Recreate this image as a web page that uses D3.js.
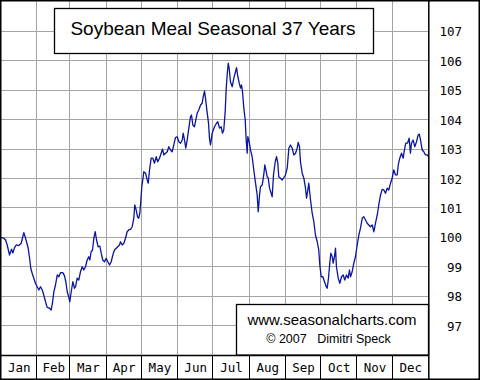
<!DOCTYPE html>
<html>
<head>
<meta charset="utf-8">
<script src="https://cdn.jsdelivr.net/npm/d3@7"></script>
<style>
  html, body { margin: 0; padding: 0; background: #fff; }
  svg { display: block; }
</style>
</head>
<body>
<svg id="chart" width="480" height="380"></svg>
<script>
// ---- data ----
const title = "Soybean Meal Seasonal 37 Years";
const months = ["Jan","Feb","Mar","Apr","May","Jun","Jul","Aug","Sep","Oct","Nov","Dec"];
const monthDays = [31,28,31,30,31,30,31,31,30,31,30,31];
const yTicks = [97,98,99,100,101,102,103,104,105,106,107];
const credits = ["www.seasonalcharts.com", "\u00A9 2007   Dimitri Speck"];

// day of year (fractional) of each point
const days = [
  0,2.8,4.3,5.7,7.7,9.4,10.5,11.9,13.4,15.6,17.7,19.0,19.9,20.7,22.2,23.6,25.0,25.8,27.0,28.4,
  29.8,31.3,32.7,34.1,35.6,36.9,38.4,39.8,41.8,43.2,44.3,45.5,46.9,48.4,49.7,51.2,53.1,54.6,55.7,56.9,
  58.2,59.1,60.3,61.7,63.1,64.0,65.4,66.8,68.2,69.7,71.0,72.5,73.9,75.3,76.2,77.3,78.5,79.6,80.8,81.9,
  83.3,84.7,85.9,87.2,88.7,90.1,91.5,93.0,94.4,95.8,97.2,98.7,100.0,101.5,102.3,103.8,105.2,106.6,108.0,109.4,
  110.9,112.3,113.7,114.5,115.7,116.8,117.9,118.8,119.6,120.5,121.7,122.2,123.7,125.1,126.0,127.1,128.5,129.9,131.3,132.8,
  134.1,135.6,137.0,138.2,139.3,140.7,142.2,143.5,145.0,146.4,147.8,149.2,150.7,152.1,153.5,155.0,155.8,156.9,158.0,159.2,
  160.6,162.0,162.9,164.0,165.4,166.6,167.7,169.1,170.6,172.0,172.9,174.0,174.8,176.3,177.4,178.2,179.1,180.5,182.5,184.2,
  185.3,186.8,188.2,189.3,190.4,191.6,192.5,193.3,194.2,195.0,196.1,197.6,199.0,200.4,201.3,202.4,203.6,204.7,205.5,206.4,
  207.5,208.7,209.5,210.4,210.9,212.1,213.2,214.6,216.0,217.5,218.9,219.8,220.9,221.7,223.2,224.5,225.4,226.6,227.4,228.3,
  229.4,230.8,231.7,232.8,234.3,235.4,236.5,237.3,238.8,240.2,241.6,243.0,244.5,245.9,247.3,248.8,250.1,251.6,253.0,253.9,
  255.0,255.8,257.3,258.7,260.1,261.0,262.1,262.9,264.4,265.8,267.2,268.6,270.1,271.4,272.3,273.5,274.9,276.3,277.8,278.6,
  279.7,280.8,281.7,282.9,283.7,284.8,285.7,286.5,288.0,289.4,290.8,292.3,293.6,295.1,296.5,297.6,298.5,299.9,301.3,302.7,
  304.2,305.6,307.0,308.5,309.8,311.3,312.7,314.1,315.5,317.0,318.4,319.8,321.3,322.6,324.1,325.5,326.9,328.3,329.8,331.1,
  332.6,334.0,335.4,336.9,338.3,339.2,340.5,342.0,343.4,344.5,345.6,347.1,348.5,349.6,350.5,351.9,353.3,354.8,356.2,357.1,
  358.2,359.6,361.0,362.4,363.9,365.0
];

// seasonal index value of each point
const values = [
  100.00,99.97,99.91,99.74,99.40,99.60,99.47,99.64,99.74,99.72,99.80,100.02,100.16,100.06,99.85,99.63,99.23,98.95,98.78,98.61,
  98.44,98.32,98.21,98.32,98.21,98.04,97.81,97.62,97.59,97.53,97.76,98.15,98.38,98.72,98.66,98.80,98.80,98.69,98.49,98.15,
  97.98,97.81,98.15,98.49,98.27,98.32,98.61,98.55,98.83,99.00,98.89,99.00,99.23,99.34,99.23,99.51,99.57,99.97,100.19,99.91,
  99.68,99.70,99.46,99.23,99.17,99.29,99.17,99.06,99.17,99.40,99.57,99.63,99.68,99.74,99.85,99.74,99.80,99.97,100.19,100.25,
  100.27,100.36,100.65,101.10,100.93,100.70,100.65,100.82,101.21,101.72,102.06,102.23,102.18,101.95,101.84,102.29,102.69,102.69,102.52,102.74,
  102.57,102.69,102.86,103.00,102.80,102.86,102.91,103.08,102.97,102.91,103.14,103.39,103.42,103.25,103.20,103.31,103.54,103.31,103.03,103.31,
  103.71,104.10,104.16,103.82,103.76,103.99,104.22,104.33,104.50,104.56,104.78,104.97,104.73,104.22,103.88,103.37,103.14,103.54,103.76,103.88,
  103.93,103.71,103.76,103.54,103.65,104.27,105.07,105.52,105.92,105.75,105.29,105.12,105.41,105.63,105.77,105.46,105.24,105.07,105.18,104.95,
  104.39,103.99,103.31,102.86,103.42,103.25,102.97,102.74,102.29,101.84,101.44,100.87,101.44,101.72,101.78,102.12,102.46,102.23,102.06,102.02,
  101.68,101.50,101.38,102.12,102.57,102.74,102.52,102.06,102.01,101.95,102.03,102.12,102.35,103.03,103.14,103.03,102.80,102.86,103.03,103.23,
  103.08,102.57,102.18,102.01,101.67,101.33,101.61,101.84,101.27,100.82,100.53,100.08,99.85,99.57,99.06,98.66,98.66,98.49,98.32,98.27,
  98.61,99.12,99.46,99.34,99.12,99.34,99.63,99.00,98.61,98.44,98.66,98.72,98.55,98.72,98.61,98.89,98.66,98.83,99.12,99.34,
  99.74,100.08,100.31,100.65,100.70,100.59,100.48,100.42,100.36,100.42,100.19,100.48,100.76,101.10,101.44,101.63,101.61,101.50,101.67,101.61,
  101.84,102.01,102.29,102.12,102.12,102.46,102.69,102.86,102.69,102.97,103.20,103.20,103.37,102.86,103.20,103.31,103.08,103.25,103.48,103.51,
  103.31,102.97,102.91,102.80,102.80,102.74
];

// ---- layout ----
const W = 480, H = 380;
const plot = { left: 0.5, right: 428.5, top: 0.5, bottom: 355 };
const svg = d3.select("#chart");

const x = d3.scaleLinear().domain([0, 365]).range([plot.left, plot.right]);
const y = d3.scaleLinear().domain([96, 108]).range([plot.bottom, 2]);

const cum = d3.cumsum(monthDays);
const monthStarts = [0, ...cum.slice(0, 11)];
const boundaries = cum.slice(0, 11);
const mids = monthStarts.map((s, i) => s + monthDays[i] / 2);

const snap = v => Math.round(v - 0.5) + 0.5;

// background
svg.append("rect").attr("x",0).attr("y",0).attr("width",W).attr("height",H).attr("fill","#fff");

// horizontal grid
const gy = svg.append("g").attr("class","ygrid")
  .call(d3.axisLeft(y).tickValues(yTicks).tickSize(-(plot.right - plot.left)).tickFormat(""))
  .attr("transform", `translate(${plot.left},0)`);
gy.select(".domain").remove();
gy.selectAll(".tick").attr("transform", d => `translate(0,${snap(y(d))})`);
gy.selectAll(".tick line").attr("stroke","#a4a4a4").attr("stroke-width",1).attr("shape-rendering","crispEdges");

// vertical grid (month boundaries) in plot
const gx = svg.append("g").attr("class","xgrid")
  .attr("transform", `translate(0,${plot.top})`)
  .call(d3.axisTop(x).tickValues(boundaries).tickSize(-(plot.bottom - plot.top)).tickFormat(""));
gx.select(".domain").remove();
gx.selectAll(".tick").attr("transform", d => `translate(${snap(x(d))},0)`);
gx.selectAll(".tick line").attr("stroke","#a4a4a4").attr("stroke-width",1).attr("shape-rendering","crispEdges");

// month separators in label row (black)
const gxl = svg.append("g")
  .attr("transform", `translate(0,${plot.bottom})`)
  .call(d3.axisBottom(x).tickValues(boundaries).tickSize(H - plot.bottom).tickFormat(""));
gxl.select(".domain").remove();
gxl.selectAll(".tick").attr("transform", d => `translate(${snap(x(d))},0)`);
gxl.selectAll(".tick line").attr("stroke","#000").attr("shape-rendering","crispEdges");

// month labels
const gm = svg.append("g")
  .attr("transform", `translate(0,${plot.bottom})`)
  .call(d3.axisBottom(x).tickValues(mids).tickSize(0).tickPadding(0).tickFormat((d, i) => months[i]));
gm.select(".domain").remove();
gm.selectAll("text")
  .attr("y", 17)
  .attr("dy", 0)
  .attr("font-family", "'DejaVu Sans Mono', monospace")
  .attr("font-size", "12.5px")
  .attr("fill", "#000");

// right value labels
const gr = svg.append("g")
  .attr("transform", `translate(${plot.right},0)`)
  .call(d3.axisRight(y).tickValues(yTicks).tickSize(0).tickPadding(0).tickFormat(d3.format("d")));
gr.select(".domain").remove();
gr.selectAll("text")
  .attr("x", 462 - plot.right)
  .attr("dy", "0.36em")
  .attr("text-anchor", "end")
  .attr("font-family", "'DejaVu Sans Mono', monospace")
  .attr("font-size", "12.5px")
  .attr("fill", "#000");

// data line
const pts = days.map((d, i) => [d, values[i]]);
svg.append("path")
  .datum(pts)
  .attr("fill","none")
  .attr("stroke","#0a14a0")
  .attr("stroke-width",1.3)
  .attr("stroke-linejoin","round")
  .attr("d", d3.line().x(d => x(d[0])).y(d => y(d[1])));

// frame lines
svg.append("line").attr("x1",0).attr("x2",plot.right).attr("y1",plot.bottom+0.5).attr("y2",plot.bottom+0.5)
  .attr("stroke","#000").attr("stroke-width",1.5);
svg.append("line").attr("x1",plot.right+0.3).attr("x2",plot.right+0.3).attr("y1",0).attr("y2",H)
  .attr("stroke","#000").attr("stroke-width",1.5);
svg.append("rect").attr("x",0.75).attr("y",0.75).attr("width",W-1.5).attr("height",H-1.5)
  .attr("fill","none").attr("stroke","#000").attr("stroke-width",1.5);

// title box
svg.append("rect").attr("x",54.5).attr("y",8.5).attr("width",319).attr("height",45)
  .attr("fill","#fff").attr("stroke","#000").attr("stroke-width",1.3);
svg.append("text").attr("x",213).attr("y",35)
  .attr("text-anchor","middle")
  .attr("font-family","'Liberation Sans', Arial, sans-serif")
  .attr("font-size","19px")
  .attr("fill","#000")
  .text(title);

// credits box
svg.append("rect").attr("x",236.5).attr("y",304.5).attr("width",plot.right-236.5).attr("height",plot.bottom-304.5)
  .attr("fill","#fff").attr("stroke","#000").attr("stroke-width",1.3);
svg.append("text").attr("x",332).attr("y",325)
  .attr("text-anchor","middle")
  .attr("font-family","'Liberation Sans', Arial, sans-serif")
  .attr("font-size","15px")
  .attr("fill","#000")
  .text(credits[0]);
svg.append("text").attr("x",328.5).attr("y",343)
  .attr("text-anchor","middle")
  .attr("font-family","'Liberation Sans', Arial, sans-serif")
  .attr("font-size","12.5px")
  .attr("fill","#000")
  .style("white-space","pre")
  .text(credits[1]);
</script>
</body>
</html>
